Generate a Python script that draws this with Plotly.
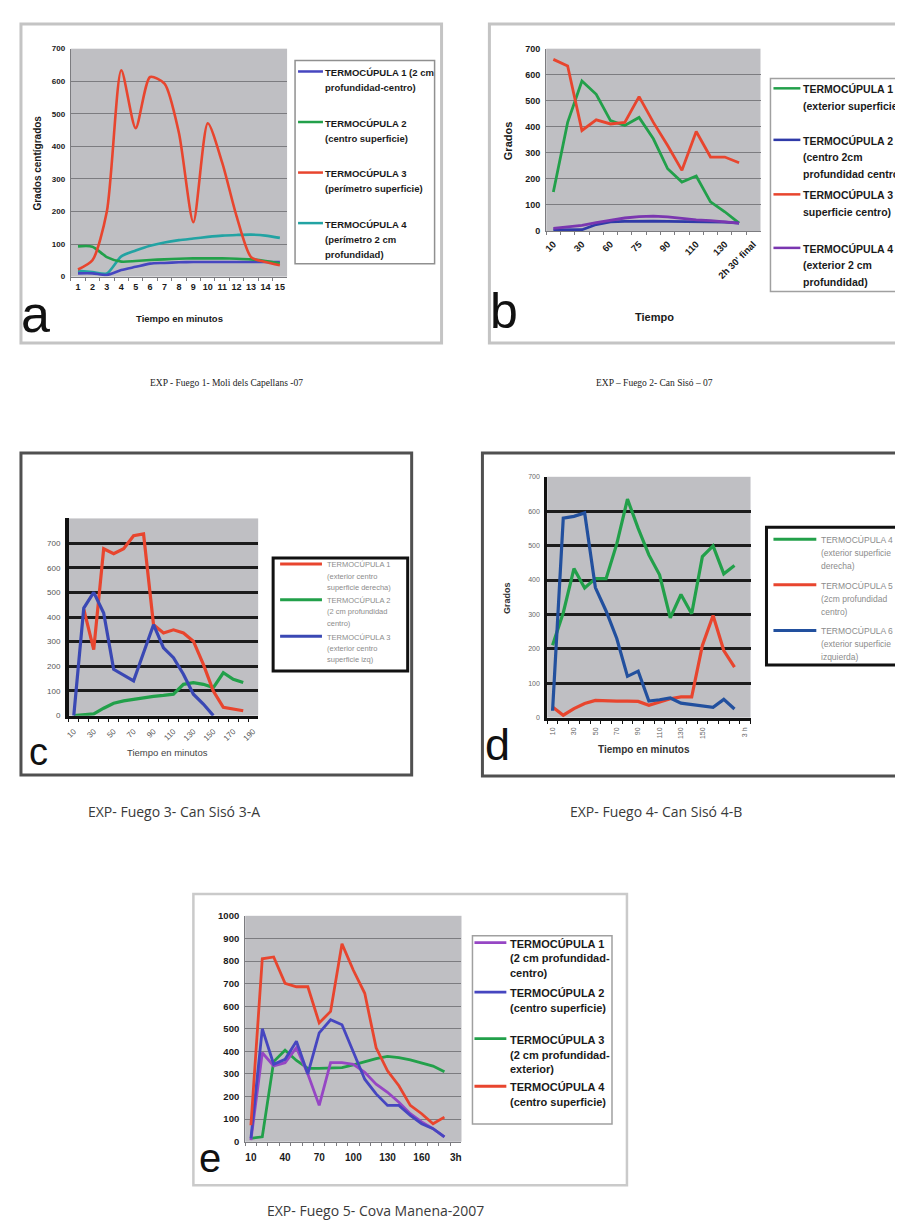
import plotly.graph_objects as go

W, H = 903, 1223
def fx(p): return p / W
def fy(p): return 1 - p / H

# ---------------- data ----------------
a_cats = [str(i) for i in range(1, 16)]
a_t1 = [10, 10, 5, 20, 30, 40, 42, 44, 45, 45, 45, 45, 45, 45, 45]
a_t2 = [93, 92, 60, 46, 48, 51, 53, 55, 56, 56, 56, 55, 53, 48, 41]
a_t3 = [22, 50, 200, 634, 456, 613, 593, 441, 167, 471, 350, 185, 60, 45, 35]
a_t4 = [18, 14, 10, 62, 80, 95, 105, 112, 117, 122, 126, 128, 129, 126, 119]
a_yticks = [0, 100, 200, 300, 400, 500, 600, 700]

b_cats = ["10", "20", "30", "40", "60", "65", "75", "80", "90", "100", "110", "120", "130", "140", "2h 30' final"]
b_ticktext = ["10", "", "30", "", "60", "", "75", "", "90", "", "110", "", "130", "", "2h 30' final"]
b_t1 = [150, 417, 576, 525, 424, 405, 436, 354, 239, 188, 211, 112, 74, 30, None]
b_t2 = [4, 5, 5, 25, 35, 37, 38, 38, 37, 36, 35, 35, 34, 30, None]
b_t3 = [659, 634, 386, 427, 411, 417, 516, 417, 328, 233, 382, 284, 284, 262, None]
b_t4 = [10, 15, 22, 32, 42, 50, 55, 57, 54, 48, 43, 40, 36, 30, None]
b_yticks = [0, 100, 200, 300, 400, 500, 600, 700]

c_cats = [str(v) for v in range(10, 200, 10)]
c_ticktext = [c if i % 2 == 0 else "" for i, c in enumerate(c_cats)]
c_t1 = [None, 432, 268, 677, 657, 677, 730, 737, 369, 335, 348, 335, 302, 208, 100, 34, 27, 20, None]
c_t2 = [0, 2, 7, 30, 50, 60, 66, 74, 78, 82, 87, 127, 134, 127, 114, 174, 147, 134, None]
c_t3 = [0, 436, 500, 416, 188, 165, 141, 255, 369, 275, 235, 168, 87, 47, 0, None, None, None, None]
c_yticks = [0, 100, 200, 300, 400, 500, 600, 700]

d_cats = [str(v) for v in range(10, 190, 10)] + ["3 h"]
d_ticktext = ["10", "", "30", "", "50", "", "70", "", "90", "", "110", "", "130", "", "150", "", "", "", "3 h"]
d_t4 = [210, 305, 433, 377, 404, 404, 505, 635, 550, 473, 415, 290, 358, 302, 468, 499, 418, 442, None]
d_t5 = [31, 7, 26, 41, 50, 48, 48, 48, 47, 36, 45, 55, 60, 60, 210, 297, 195, 147, None]
d_t6 = [20, 580, 585, 595, 378, 310, 230, 120, 135, 48, 52, 57, 42, 38, 34, 30, 53, 25, None]
d_yticks = [0, 100, 200, 300, 400, 500, 600, 700]

e_cats = [str(v) for v in range(10, 190, 10)] + ["3h"]
e_ticktext = [c if i % 3 == 0 else "" for i, c in enumerate(e_cats)]
e_t1 = [7, 394, 336, 350, 416, 300, 161, 350, 350, 343, 307, 255, 219, 175, 124, 88, 58, 22, None]
e_t2 = [15, 500, 343, 365, 445, 300, 482, 540, 518, 394, 277, 212, 161, 161, 117, 80, 58, 22, None]
e_t3 = [15, 22, 355, 405, 360, 325, 325, 328, 328, 340, 355, 368, 378, 372, 362, 350, 335, 310, None]
e_t4 = [73, 810, 818, 701, 686, 686, 526, 577, 876, 759, 657, 416, 314, 248, 161, 124, 80, 109, None]
e_yticks = list(range(0, 1001, 100))

# ---------------- colours ----------------
RED = "#e8452e"
GREEN = "#22a04a"
BLUE = "#4646c0"
CYAN = "#22a3a3"
PURPLE = "#7a36b0"
DBLUE = "#2f3aa8"
CBLUE = "#3a48b4"
DDBLUE = "#22509e"
EPURPLE = "#9646c4"
PLOTBG = "#bfbfc3"

BOLD = dict(family="Liberation Sans", weight="bold", color="#1a1a1a")

fig = go.Figure()

def add_series(cats, series, xa, ya, width, shape="linear"):
    for name, vals, color in series:
        line = dict(color=color, width=width, shape=shape)
        if shape == "spline":
            line["smoothing"] = 0.7
        fig.add_trace(go.Scatter(x=cats, y=vals, name=name, mode="lines", line=line,
                                 xaxis=xa, yaxis=ya, showlegend=False, hoverinfo="skip",
                                 connectgaps=False))

add_series(a_cats, [("TERMOCÚPULA 4", a_t4, CYAN), ("TERMOCÚPULA 1", a_t1, BLUE),
                    ("TERMOCÚPULA 2", a_t2, GREEN), ("TERMOCÚPULA 3", a_t3, RED)], "x", "y", 2.6, "spline")
add_series(b_cats, [("TERMOCÚPULA 1", b_t1, GREEN), ("TERMOCÚPULA 3", b_t3, RED),
                    ("TERMOCÚPULA 2", b_t2, DBLUE), ("TERMOCÚPULA 4", b_t4, PURPLE)], "x2", "y2", 2.8)
add_series(c_cats, [("TERMOCÚPULA 2", c_t2, GREEN), ("TERMOCÚPULA 1", c_t1, RED),
                    ("TERMOCÚPULA 3", c_t3, CBLUE)], "x3", "y3", 3.2)
add_series(d_cats, [("TERMOCÚPULA 5", d_t5, RED), ("TERMOCÚPULA 4", d_t4, GREEN),
                    ("TERMOCÚPULA 6", d_t6, DDBLUE)], "x4", "y4", 3.2)
add_series(e_cats, [("TERMOCÚPULA 3", e_t3, GREEN), ("TERMOCÚPULA 1", e_t1, EPURPLE),
                    ("TERMOCÚPULA 2", e_t2, BLUE), ("TERMOCÚPULA 4", e_t4, RED)], "x5", "y5", 2.8)

def cat_axis(x0, x1, cats, ticktext, anchor, angle, font, standoff, lc, lw):
    return dict(domain=[fx(x0), fx(x1)], anchor=anchor, type="category",
                categoryorder="array", categoryarray=cats, range=[-0.5, len(cats) - 0.5],
                tickmode="array", tickvals=cats, ticktext=ticktext, tickson="boundaries",
                ticks="outside", ticklen=3, tickcolor=lc, tickwidth=1,
                showgrid=False, showline=True, linecolor=lc, linewidth=lw,
                tickangle=angle, tickfont=font, ticklabelstandoff=standoff,
                zeroline=False, fixedrange=True)

def val_axis(top, bottom, anchor, rng, tickvals, font, gc, gw, lc, lw):
    return dict(domain=[fy(bottom), fy(top)], anchor=anchor, range=rng,
                tickmode="array", tickvals=tickvals, showgrid=True, gridcolor=gc,
                gridwidth=gw, zeroline=False, showline=True, linecolor=lc, linewidth=lw,
                ticks="", tickfont=font, ticklabelstandoff=3, fixedrange=True)

GRIDL = "#7c7c80"
GRIDD = "#1c1c1c"

layout = dict(
    width=W, height=H, autosize=False,
    margin=dict(l=0, r=0, t=0, b=0),
    paper_bgcolor="white", plot_bgcolor=PLOTBG,
    showlegend=False,
    xaxis=cat_axis(60, 277, a_cats, a_cats, "y", 0, dict(BOLD, size=9), 1, "#7c7c80", 1.2),
    yaxis=val_axis(35, 265, "x", [0, 700], a_yticks, dict(BOLD, size=8), GRIDL, 1.4, "#7c7c80", 1.2),
    xaxis2=cat_axis(537, 752, b_cats, b_ticktext, "y2", -45, dict(BOLD, size=9.5), 3, "#7c7c80", 1.2),
    yaxis2=val_axis(35, 219, "x2", [0, 700], b_yticks, dict(BOLD, size=9), GRIDL, 1.4, "#7c7c80", 1.2),
    xaxis3=cat_axis(58, 248, c_cats, c_ticktext, "y3", -45, dict(family="Liberation Sans", size=8, color="#555"), 5, "#111", 3),
    yaxis3=val_axis(509, 708, "x3", [0, 800], c_yticks, dict(family="Liberation Sans", size=8, color="#555"), GRIDD, 3, "#111", 3.5),
    xaxis4=cat_axis(538, 742, d_cats, d_ticktext, "y4", -90, dict(family="Liberation Sans", size=7, color="#666"), 4, "#111", 3),
    yaxis4=val_axis(467, 710, "x4", [0, 700], d_yticks, dict(family="Liberation Sans", size=7, color="#666"), GRIDD, 3, "#111", 3),
    xaxis5=cat_axis(235, 452, e_cats, e_ticktext, "y5", 0, dict(BOLD, size=10), 6, "#7c7c80", 1.2),
    yaxis5=val_axis(910, 1138, "x5", [0, 1000], e_yticks, dict(BOLD, size=9.5), GRIDL, 1.4, "#7c7c80", 1.2),
)

shapes = []
annotations = []

def rect(x0, y0, x1, y1, color, width):
    shapes.append(dict(type="rect", xref="paper", yref="paper", x0=fx(x0), x1=fx(x1),
                       y0=fy(y1), y1=fy(y0), line=dict(color=color, width=width),
                       fillcolor="rgba(0,0,0,0)", layer="above"))

def text(x, y, t, font, xanchor="center", yanchor="middle", angle=0):
    annotations.append(dict(x=fx(x), y=fy(y), xref="paper", yref="paper", text=t,
                            showarrow=False, font=font, xanchor=xanchor, yanchor=yanchor,
                            textangle=angle))

def legend(box, entries, lx0, lx1, tx, font, lw, bc, bw, dy):
    rect(*box, bc, bw)
    for color, lines, y0 in entries:
        shapes.append(dict(type="line", xref="paper", yref="paper", x0=fx(lx0), x1=fx(lx1),
                           y0=fy(y0 - 1), y1=fy(y0 - 1), line=dict(color=color, width=lw)))
        for k, t in enumerate(lines):
            text(tx, y0 + k * dy, t, font, xanchor="left")

# outer frames
rect(10, 10, 432, 332, "#c4c4c4", 3)
rect(480, 10, 906, 332, "#c4c4c4", 3)
rect(10, 443, 402, 768, "#505050", 3)
rect(473, 443, 900, 769, "#505050", 3)
rect(183, 888, 618, 1182, "#cacaca", 2.5)

# legends
legend((285, 47, 425, 252), [
    (BLUE, ["TERMOCÚPULA 1 (2 cm", "profundidad-centro)"], 59),
    (GREEN, ["TERMOCÚPULA 2", "(centro superficie)"], 110),
    (RED, ["TERMOCÚPULA 3", "(perímetro superficie)"], 161),
    (CYAN, ["TERMOCÚPULA 4", "(perímetro 2 cm", "profundidad)"], 212),
], 288, 313, 313, dict(BOLD, size=9.5), 2.5, "#909090", 1.5, 15.5)

legend((762, 65, 906, 280), [
    (GREEN, ["TERMOCÚPULA 1", "(exterior superficie)"], 76),
    (DBLUE, ["TERMOCÚPULA 2", "(centro 2cm", "profundidad centro)"], 128),
    (RED, ["TERMOCÚPULA 3  (", "superficie centro)"], 183),
    (PURPLE, ["TERMOCÚPULA 4", "(exterior 2 cm", "profundidad)"], 237),
], 765, 792, 793, dict(BOLD, size=10.5), 2.5, "#a0a0a0", 1.5, 16.5)

legend((263, 549, 398, 663), [
    (RED, ["TERMOCÚPULA 1", "(exterior centro", "superficie derecha)"], 556),
    (GREEN, ["TERMOCÚPULA 2", "(2 cm profundidad", "centro)"], 592),
    (CBLUE, ["TERMOCÚPULA 3", "(exterior centro", "superficie izq)"], 629),
], 270, 312, 315, dict(family="Liberation Sans", size=7.5, color="#8c8c8c"), 3, "#111", 3, 11.3)

legend((758, 518, 898, 657), [
    (GREEN, ["TERMOCÚPULA 4", "(exterior superficie", "derecha)"], 531),
    (RED, ["TERMOCÚPULA 5", "(2cm profundidad", "centro)"], 577),
    (DDBLUE, ["TERMOCÚPULA 6", "(exterior superficie", "izquierda)"], 623),
], 765, 808, 811, dict(family="Liberation Sans", size=8.5, color="#8c8c8c"), 3, "#111", 3, 13)

legend((463, 930, 603, 1120), [
    (EPURPLE, ["TERMOCÚPULA 1", "(2 cm profundidad-", "centro)"], 938),
    (BLUE, ["TERMOCÚPULA 2", "(centro superficie)"], 988),
    (GREEN, ["TERMOCÚPULA 3", "(2 cm profundidad-", "exterior)"], 1035),
    (RED, ["TERMOCÚPULA 4", "(centro superficie)"], 1083),
], 465, 497, 499, dict(BOLD, size=11), 2.8, "#a0a0a0", 1.5, 15)

# axis titles
text(27, 150, "Grados centígrados", dict(BOLD, size=10), angle=-90)
text(169, 307, "Tiempo en minutos", dict(BOLD, size=9.5))
text(499, 128, "Grados", dict(BOLD, size=11), angle=-90)
text(646, 306, "Tiempo", dict(BOLD, size=11))
text(157, 745, "Tiempo en minutos", dict(family="Liberation Sans", size=9.5, color="#444"))
text(497, 589, "Grados", dict(family="Liberation Sans", size=9, color="#333", weight="bold"), angle=-90)
text(635, 742, "Tiempo en minutos", dict(family="Liberation Sans", size=10, color="#333", weight="bold"))

# panel letters
LET = dict(family="Liberation Sans", color="#111")
text(25, 303, "a", dict(LET, size=52))
text(495, 300, "b", dict(LET, size=50))
text(28, 745, "c", dict(LET, size=38))
text(488, 737, "d", dict(LET, size=45))
text(200, 1154, "e", dict(LET, size=40))

# captions
SERIF = dict(family="Liberation Serif", size=9.5, color="#222")
SANS = dict(family="Open Sans", size=14, color="#3a3a3a")
text(216, 372, "EXP - Fuego 1- Moli dels Capellans -07", SERIF)
text(646, 372, "EXP – Fuego 2- Can Sisó – 07", SERIF)
text(164, 805, "EXP- Fuego 3- Can Sisó 3-A", SANS)
text(647, 805, "EXP- Fuego 4- Can Sisó 4-B", SANS)
text(366, 1207, "EXP- Fuego 5- Cova Manena-2007", SANS)

layout["shapes"] = shapes
layout["annotations"] = annotations
fig.update_layout(**layout)
fig.write_html("out.html")
